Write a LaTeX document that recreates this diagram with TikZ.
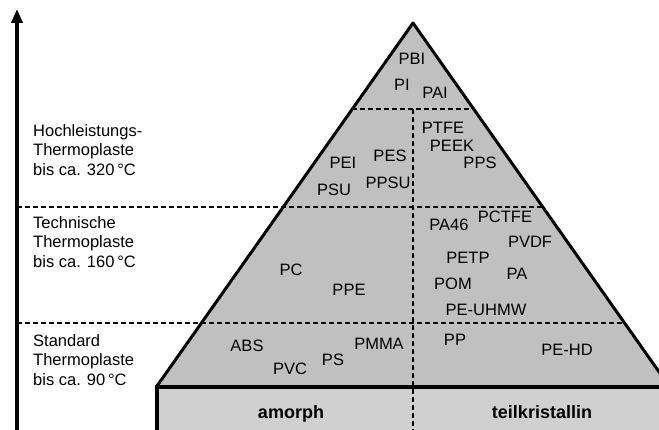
\documentclass[tikz,border=0pt]{standalone}
\usepackage{fontspec}
\setmainfont{Liberation Sans}
\usepackage{xcolor}
\usetikzlibrary{arrows.meta}

\definecolor{trigray}{RGB}{192,192,192}
\definecolor{basegray}{RGB}{208,208,208}

\begin{document}
\begin{tikzpicture}[x=1pt,y=-1pt]
\tikzset{poly/.style={inner sep=0pt,font=\fontsize{16.5}{19.5}\selectfont}}
\tikzset{classlabel/.style={inner sep=0pt,anchor=north west,align=left,font=\fontsize{16.5}{19.5}\selectfont}}
\tikzset{baselabel/.style={inner sep=0pt,anchor=base,font=\fontsize{18}{20}\selectfont\bfseries}}
\tikzset{border/.style={draw=black,dash pattern=on 5pt off 3pt,line width=1.2pt}}

\useasboundingbox (0,0) rectangle (659,430);
\clip (0,0) rectangle (659,430);

\coordinate (apex) at (413,23);
\coordinate (leftCorner) at (157,386);
\coordinate (rightCorner) at (669,386);

% base box and pyramid
\fill[basegray] (157,387) rectangle (690,440);
\fill[trigray] (leftCorner) -- (apex) -- (rightCorner) -- cycle;

% class borders
\draw[border] (352,109) -- (474,109);
\draw[border] (17,207) -- (543,207);
\draw[border] (17,323) -- (625,323);
\draw[border] (413,109) -- (413,432);

\draw[line width=3pt,line join=round] (leftCorner) -- (apex) -- (rightCorner);
\draw[line width=4pt] (157,440) -- (157,387) -- (690,387);

% temperature axis
\coordinate (axisFoot) at (17,432);
\coordinate (axisTip) at (17,9);
\draw[line width=3.5pt,-{Triangle[width=11pt,length=14pt]}] (axisFoot) -- (axisTip);

\node[classlabel] (hochLabel) at (33,124) {Hochleistungs-\\Thermoplaste\\bis ca. 320\,°C};
\node[classlabel] (techLabel) at (33,216) {Technische\\Thermoplaste\\bis ca. 160\,°C};
\node[classlabel] (stdLabel) at (33,334) {Standard\\Thermoplaste\\bis ca. 90\,°C};

\node[poly] (pbi) at (412,59) {PBI};
\node[poly] (pi) at (402,85) {PI};
\node[poly] (pai) at (435,93) {PAI};
\node[poly] (ptfe) at (443,128) {PTFE};
\node[poly] (peek) at (452,146) {PEEK};
\node[poly] (pps) at (480,163) {PPS};
\node[poly] (pes) at (390,156) {PES};
\node[poly] (pei) at (343,163) {PEI};
\node[poly] (ppsu) at (388,183) {PPSU};
\node[poly] (psu) at (334,190) {PSU};

\node[poly] (pa46) at (449,225) {PA46};
\node[poly] (pctfe) at (505,217) {PCTFE};
\node[poly] (pvdf) at (530,242) {PVDF};
\node[poly] (petp) at (468,258) {PETP};
\node[poly] (pa) at (517,274) {PA};
\node[poly] (pom) at (453,284) {POM};
\node[poly] (peuhmw) at (486,310) {PE-UHMW};
\node[poly] (pc) at (291,270) {PC};
\node[poly] (ppe) at (349,290) {PPE};

\node[poly] (abs) at (247,346) {ABS};
\node[poly] (pvc) at (290,369) {PVC};
\node[poly] (ps) at (333,360) {PS};
\node[poly] (pmma) at (379,344) {PMMA};
\node[poly] (pp) at (455,340) {PP};
\node[poly] (pehd) at (567,350) {PE-HD};

\node[baselabel] (amorph) at (291,418) {amorph};
\node[baselabel] (teilkrist) at (542,418) {teilkristallin};
\end{tikzpicture}
\end{document}
